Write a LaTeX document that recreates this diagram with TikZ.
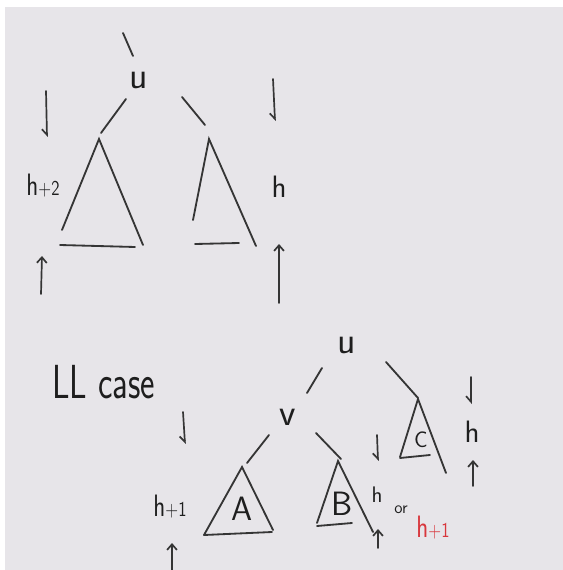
\documentclass[tikz,border=0pt]{standalone}
\usepackage{xcolor}
\usepackage{graphicx}
\usepackage{tikz}
\usetikzlibrary{arrows.meta,positioning,backgrounds,calc}
\definecolor{avInk}{HTML}{1E1E1E}
\definecolor{avRed}{HTML}{D8363C}
\definecolor{avPaper}{HTML}{E7E5E9}
\tikzset{
  % Tree edges and subtree triangles
  treeline/.style={line width=1.3pt,line cap=round,color=avInk!90},
  % Height markers
  hup/.style={-{Straight Barb[length=4pt,width=7pt]},
    line width=1.2pt,line cap=round,color=avInk!90},
  hdown/.style={-{Straight Barb[harpoon,swap,length=4pt,width=7pt]},
    line width=1.2pt,line cap=round,color=avInk!90},
  % Node keys (u, v)
  keyl/.style={font=\fontsize{27}{27}\selectfont\sffamily,text=avInk,inner sep=0pt},
  % Subtree names (A, B, C)
  subl/.style={font=\fontsize{24}{24}\selectfont\sffamily,text=avInk,inner sep=0pt},
  % Height texts
  ht/.style={font=\fontsize{22}{22}\selectfont\sffamily,text=avInk,inner sep=0pt},
  htred/.style={ht,text=avRed},
  orl/.style={font=\fontsize{12}{12}\selectfont\sffamily,text=avInk,inner sep=0pt},
  % Case title
  caselbl/.style={font=\fontsize{34}{34}\selectfont\sffamily,text=avInk,inner sep=0pt},
}

\begin{document}
\begin{tikzpicture}[x=0.025cm,y=-0.025cm]
  % Paper
  \fill[white] (0,0) rectangle (563,570);
  \fill[avPaper] (5,7) rectangle (563,570);
  \useasboundingbox (0,0) rectangle (563,570);

  % Top: u with subtrees of height h+2 and h
  \node[keyl] (uTop) at (139,80) {u};
  \coordinate (lApex) at (99,139);
  \coordinate (rApex) at (209,139);
  \draw[treeline] ([shift={(-16,-47)}]uTop.center) -- ([shift={(-6,-24)}]uTop.center);
  \draw[treeline] ([shift={(-13,19)}]uTop.center) -- ([shift={(2,-6)}]lApex);
  \draw[treeline] ([shift={(43,17)}]uTop.center) -- ([shift={(-4,-14)}]rApex);

  % Left subtree
  \draw[treeline] (62,230) -- (lApex) -- (143,245);
  \draw[treeline] (60,245) -- (135,247);
  % Right subtree
  \draw[treeline] (193,220) -- (rApex) -- (256,246);
  \draw[treeline] (195,244) -- (239,243);

  % Heights
  \node[ht] (hTwo) at (43,186) {\scalebox{0.8}[1]{h{\fontsize{15}{15}\selectfont+2}}};
  \draw[hdown] (46,91) -- (47,137);
  \draw[hup] (41,294) -- (42,256);
  \node[ht] (hTop) at (279,187) {h};
  \draw[hdown] (273,79) -- (275,121);
  \draw[hup] (279,303) -- (279,244);

  % Bottom: LL case
  \node[caselbl,anchor=west] (llCase) at (52,382) {\scalebox{0.72}[1]{LL case}};
  \node[keyl] (uLL) at (347,345) {u};
  \node[keyl] (v) at (288,417) {v};
  \coordinate (aApex) at (242,467);
  \coordinate (bApex) at (338,461);
  \coordinate (cApex) at (418,399);
  \draw[treeline] ([shift={(-25,23)}]uLL.center) -- ([shift={(19,-24)}]v.center);
  \draw[treeline] ([shift={(39,17)}]uLL.center) -- ([shift={(0,-1)}]cApex);
  \draw[treeline] ([shift={(-19,18)}]v.center) -- ([shift={(5,-4)}]aApex);
  \draw[treeline] ([shift={(28,16)}]v.center) -- ([shift={(3,-2)}]bApex);

  % Subtree A
  \draw[treeline] (204,535) -- (aApex) -- (273,530);
  \draw[treeline] (204,535) -- (272,532);
  \node[subl] (A) at (242,509) {A};
  % Subtree B
  \draw[treeline] (317,523) -- (bApex) -- (373,532);
  \draw[treeline] (317,526) -- (352,523);
  \node[subl] (B) at (342,504) {B};
  % Subtree C
  \draw[treeline] (400,457) -- (cApex) -- (446,473);
  \draw[treeline] (400,458) -- (430,455);
  \node[subl,font=\fontsize{16}{16}\selectfont\sffamily] (C) at (421,440) {C};

  % Heights of A, B, C
  \node[ht] (hOne) at (170,507) {\scalebox{0.8}[1]{h{\fontsize{15}{15}\selectfont+1}}};
  \draw[hdown] (183,412) -- (185,444);
  \draw[hup] (172,572) -- (172,543);
  \node[ht,font=\fontsize{16}{16}\selectfont\sffamily] (hB) at (377,495) {h};
  \node[orl] (orB) at (401,510) {or};
  \node[htred] (hRed) at (433,528) {\scalebox{0.8}[1]{h{\fontsize{15}{15}\selectfont+1}}};
  \draw[hdown] (377,435) -- (378,461);
  \draw[hup] (378,548) -- (378,529);
  \node[ht] (hC) at (472,432) {h};
  \draw[hdown] (471,377) -- (471,404);
  \draw[hup] (473,486) -- (473,460);
\end{tikzpicture}
\end{document}
